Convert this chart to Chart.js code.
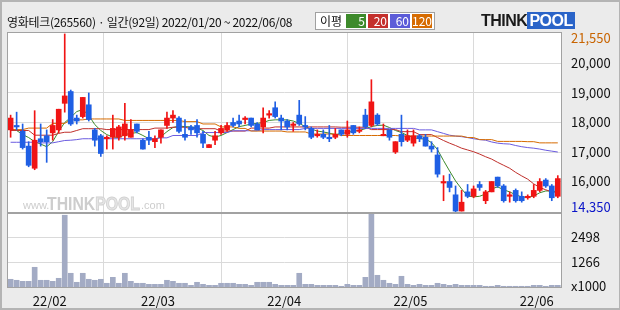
<!DOCTYPE html>
<html>
<head>
<meta charset="utf-8">
<script src="https://cdn.jsdelivr.net/npm/chart.js@4.4.1/dist/chart.umd.min.js"></script>
<style>
  body { margin: 0; background: #fff; }
  #wrap { position: relative; width: 620px; height: 310px; background: #ebebeb; overflow: hidden;
          font-family: 'Noto Sans CJK KR', 'Noto Sans', sans-serif; }
  #frame { position: absolute; left: 0; top: 0; width: 620px; height: 310px; box-sizing: border-box;
           border: 2px solid #b4b4b4; border-right-width: 1px; pointer-events: none; }
  canvas { position: absolute; left: 0; }
  #price { top: 0; }
  #vol { top: 213px; }
  #title { position: absolute; left: 7px; top: 13px; font-size: 12px; letter-spacing: -0.3px; color: #111; white-space: nowrap; }
  #maBox { position: absolute; left: 315px; top: 12px; width: 118px; height: 16px; background: #fff;
           border: 1px solid #a0a0a0; }
  #maBox span { position: absolute; top: 1px; height: 14px; line-height: 14px; font-size: 12px; }
  #maBox .lbl { left: 4px; color: #111; }
  #maBox .ma { color: #fff; text-align: right; padding-right: 1px; box-sizing: border-box; }
  #logo { position: absolute; left: 481px; top: 12px; height: 17px; font-family: 'Liberation Sans', Arial, sans-serif;
          font-weight: bold; font-size: 16px; line-height: 17px; letter-spacing: -0.5px; }
  #logo .think { color: #1a1a1a; }
  #logo .pool { color: #fff; background: #2a64c8; padding: 0 2px; }
</style>
</head>
<body>
<div id="wrap">
  <canvas id="price" width="620" height="213"></canvas>
  <canvas id="vol" width="620" height="97"></canvas>
  <div id="title">영화테크(265560) · 일간(92일) 2022/01/20 ~ 2022/06/08</div>
  <div id="maBox">
    <span class="lbl">이평</span>
    <span class="ma" style="left:30px;width:20px;background:#3d8a2b">5</span>
    <span class="ma" style="left:52px;width:20px;background:#c4302c">20</span>
    <span class="ma" style="left:74px;width:20px;background:#5c5cd8">60</span>
    <span class="ma" style="left:96px;width:20px;background:#d66b00">120</span>
  </div>
  <div id="logo"><span class="think">THINK</span><span class="pool">POOL</span></div>
  <div id="frame"></div>
</div>
<script>
// daily candles, 2022/01/20 ~ 2022/06/08 (92 trading days)
const monthLabels = ['22/02', '22/03', '22/04', '22/05', '22/06'];
const monthStartIdx = [7, 25, 46, 67, 88];

const openP = [17750,17900,17700,17200,16450,17450,17550,17650,17750,18650,
  19050,18150,18200,18600,17750,17550,17450,17500,17500,17550,
  17500,17950,17400,17500,17350,17500,17900,18150,18150,17600,
  17850,17900,17600,17150,17400,17650,17750,18000,18050,18100,
  18150,17950,17850,18250,18500,18150,18050,17900,18250,17900,
  17800,17550,17600,17500,17500,17750,17600,17900,17700,18250,
  17900,18250,17550,17750,17000,17600,17400,17300,17550,17500,
  17200,16900,15950,16000,15550,15000,15650,15500,15900,15350,
  15650,16150,15850,15500,15700,15500,15450,15500,15700,16050,
  15850,15500];
const highP = [18250,18350,17950,17350,18400,17950,17750,18100,18450,21000,
  19100,18250,18850,19000,17800,17600,17550,18250,17900,18650,
  18100,17950,17450,17700,17550,17750,18350,18400,18200,18100,
  17900,18100,17700,17250,17700,17900,18000,18150,18250,18200,
  18150,18000,18500,18400,18700,18250,18100,18000,18750,18200,
  17850,17750,17750,17900,17800,17750,18050,17900,17850,18450,
  19450,18300,17950,17750,17350,18250,17750,17750,17600,17600,
  17350,17150,16200,16250,15850,15700,15900,15850,16000,15700,
  16000,16150,15900,15650,15750,15650,15550,15900,16100,16100,
  15900,16200];
const lowP = [17500,17750,17100,16500,16400,17200,16650,17400,17650,18350,
  17900,17950,18150,18050,17200,16850,17100,17100,17400,17400,
  17500,17650,17100,17250,17150,17300,17800,18000,17650,17400,
  17600,17500,17150,17150,17250,17600,17700,17850,17850,17950,
  17850,17750,17650,18150,18150,17750,17750,17700,17900,17750,
  17450,17500,17450,17350,17450,17550,17500,17600,17650,17800,
  17850,17900,17550,17400,16950,17200,17350,17200,17350,17200,
  17000,16150,15350,15650,14950,15000,15450,15450,15700,15250,
  15650,15800,15300,15300,15300,15300,15400,15450,15650,15800,
  15350,15450];
const closeP = [18150,17850,17150,16550,17400,17350,17350,17900,18450,18900,
  17950,18050,18850,18100,17400,16950,17500,17800,17850,17950,
  17750,17700,17100,17400,17450,17750,18150,18250,17700,17500,
  17750,17650,17300,17250,17550,17800,17900,17900,17950,18150,
  17900,17750,18150,18300,18200,18050,17850,17950,17950,17850,
  17500,17600,17500,17450,17600,17600,17750,17650,17750,17850,
  18700,17950,17600,17500,17350,17350,17550,17550,17450,17200,
  17100,16250,16000,15800,15000,15300,15500,15750,15800,15650,
  16000,15850,15350,15550,15350,15350,15500,15700,16000,15850,
  15450,16100];
// volume, thousands of shares
const volume = [429,380,330,330,1020,380,380,330,478,3584,
  725,281,725,429,380,429,232,527,232,725,
  330,232,232,182,182,182,380,330,232,232,
  133,281,182,133,133,232,232,232,182,182,
  133,281,281,281,182,133,133,133,725,182,
  182,133,133,133,133,84,182,133,133,527,
  3633,626,380,232,182,577,182,133,182,133,
  133,232,182,133,182,133,133,133,133,84,
  84,133,84,84,84,84,84,133,133,84,
  133,133];
// moving averages
const ma5 = [17780,17730,17590,17490,17350,17270,17180,17350,17700,18000,
  18170,18370,18440,18240,17930,17730,17590,17510,17490,17590,
  17630,17660,17560,17450,17420,17520,17690,17830,17880,17860,
  17850,17810,17730,17560,17510,17560,17660,17760,17860,17900,
  17950,17970,18000,18070,18090,18090,18090,18050,17970,17860,
  17780,17710,17680,17640,17590,17630,17660,17710,17730,17790,
  17860,17900,17910,17830,17730,17660,17560,17490,17450,17440,
  17320,17080,16710,16360,16020,15750,15510,15480,15500,15580,
  15750,15820,15720,15650,15550,15480,15460,15510,15620,15680,
  15680,15650];
const ma20 = [17730,17730,17730,17730,17570,17570,17570,17570,17630,17670,
  17670,17730,17790,17790,17790,17790,17760,17760,17760,17760,
  17760,17760,17760,17760,17810,17810,17810,17840,17840,17840,
  17790,17790,17790,17790,17790,17710,17710,17710,17710,17710,
  17810,17810,17810,17810,17850,17850,17850,17850,17850,17850,
  17850,17850,17850,17850,17850,17840,17840,17840,17840,17840,
  17760,17760,17760,17760,17760,17690,17690,17690,17590,17590,
  17590,17490,17390,17300,17220,17130,17070,17010,16930,16840,
  16760,16650,16550,16450,16310,16190,16080,15920,15800,15720,
  15650,15630];
const ma60 = [17330,17330,17330,17330,17330,17310,17310,17310,17350,17390,
  17400,17420,17450,17450,17450,17450,17450,17450,17450,17450,
  17450,17450,17450,17450,17450,17480,17480,17560,17560,17560,
  17560,17560,17660,17660,17660,17660,17660,17720,17720,17720,
  17720,17720,17760,17760,17760,17760,17760,17760,17760,17800,
  17800,17800,17800,17800,17800,17800,17800,17800,17800,17800,
  17800,17800,17800,17800,17800,17800,17800,17800,17750,17750,
  17750,17690,17630,17570,17540,17520,17490,17450,17420,17400,
  17340,17300,17280,17270,17220,17180,17150,17130,17100,17060,
  17030,17000];
const ma120 = [17760,17760,17760,17810,17810,17810,17810,17970,17970,17970,
  18090,18090,18090,18120,18120,18120,18120,18120,18120,18070,
  18070,18070,18070,18070,18070,18070,18070,18070,18070,18030,
  18030,18030,17950,17950,17950,17850,17850,17850,17800,17800,
  17710,17710,17710,17710,17710,17710,17680,17680,17680,17680,
  17610,17610,17610,17610,17610,17560,17560,17560,17560,17560,
  17560,17560,17560,17560,17560,17540,17540,17540,17540,17540,
  17540,17540,17540,17540,17540,17540,17490,17490,17420,17420,
  17420,17360,17360,17360,17360,17360,17350,17350,17310,17310,
  17310,17310];

const priceGridTicks = [16000, 17000, 18000, 19000, 20000];
const priceHighLabel = '21,550';
const priceLowLabel = '14,350';
const volGridTicks = [1266, 2498];
const volUnitLabel = 'x1000';

// colours
const upColor = '#f01414';
const downColor = '#1f5fe4';
const volColor = '#a3abc4';
const gridColor = '#dadada';
const frameColor = '#a2a2a2';

Chart.defaults.font.family = "'Noto Sans CJK KR', 'Noto Sans', sans-serif";
Chart.defaults.font.size = 13;
Chart.defaults.color = '#111';

const idx = openP.map((_, i) => i);
const candleColors = idx.map(i => closeP[i] >= openP[i] ? upColor : downColor);
const monthEdges = monthStartIdx.map(i => i - 0.5);

// label spots for the high/low marks at the top and bottom of the price axis
const HIGH_LABEL_AT = 20860, LOW_LABEL_AT = 15140, UNIT_LABEL_AT = 98;

// scales must not push the plot area around
function noPad(s) {
  s.paddingTop = 0; s.paddingBottom = 0; s.paddingLeft = 0; s.paddingRight = 0;
}

// white plot area + grey frame
const panelPlugin = {
  id: 'panel',
  beforeDraw(chart) {
    const a = chart.chartArea, ctx = chart.ctx;
    ctx.save();
    ctx.fillStyle = '#fff';
    ctx.fillRect(a.left, a.top, a.right - a.left, a.bottom - a.top);
    ctx.restore();
  },
  afterDraw(chart) {
    const a = chart.chartArea, ctx = chart.ctx;
    ctx.save();
    ctx.strokeStyle = frameColor;
    ctx.lineWidth = 1;
    ctx.strokeRect(a.left + 0.5, a.top + 0.5, a.right - a.left - 1, a.bottom - a.top - 1);
    ctx.restore();
  }
};

// faint site watermark in the lower left of the price panel
const watermarkPlugin = {
  id: 'watermark',
  beforeDatasetsDraw(chart) {
    const ctx = chart.ctx;
    ctx.save();
    ctx.textBaseline = 'alphabetic';
    ctx.fillStyle = '#cdcdcd';
    ctx.font = "11px 'Liberation Sans', Arial, sans-serif";
    ctx.fillText('www.', 23, 209);
    ctx.font = "bold 19px 'Liberation Sans', Arial, sans-serif";
    const wThink = ctx.measureText('THINK').width;
    const wPool = ctx.measureText('POOL').width;
    const k = 93 / (wThink + wPool);   // squeeze the word into its slot
    ctx.save();
    ctx.translate(47, 210);
    ctx.scale(k, 1);
    ctx.fillText('THINK', 0, 0);
    ctx.fillStyle = '#e6e6e6';
    ctx.strokeStyle = '#d2d2d2';
    ctx.lineWidth = 1;
    ctx.fillText('POOL', wThink, 0);
    ctx.strokeText('POOL', wThink, 0);
    ctx.restore();
    ctx.fillStyle = '#cdcdcd';
    ctx.font = "11px 'Liberation Sans', Arial, sans-serif";
    ctx.fillText('.com', 141, 209);
    ctx.restore();
  }
};

function maLine(values, color) {
  return {
    type: 'line',
    data: values.map((v, i) => ({ x: i, y: v })),
    borderColor: color,
    borderWidth: 1,
    pointRadius: 0,
    tension: 0,
    order: 5
  };
}

const xScale = (showLabels) => ({
  type: 'linear',
  min: -0.6,
  max: 91.7,
  offset: false,
  afterBuildTicks: s => { s.ticks = monthEdges.map(v => ({ value: v })); },
  ticks: {
    display: showLabels,
    padding: 5,
    maxRotation: 0,
    autoSkip: false,
    callback: v => monthLabels[monthEdges.indexOf(v)] || ''
  },
  grid: { color: gridColor, drawTicks: false },
  border: { display: false },
  afterFit: s => { s.height = showLabels ? 22 : 0; noPad(s); }
});

new Chart(document.getElementById('price'), {
  type: 'bar',
  data: {
    datasets: [
      maLine(ma120, '#d66b00'),
      maLine(ma60, '#6b5ce0'),
      maLine(ma20, '#c0302c'),
      maLine(ma5, '#3d8a2b'),
      {
        data: idx.map(i => ({ x: i, y: [lowP[i], highP[i]] })),
        backgroundColor: candleColors,
        barThickness: 1,
        grouped: false,
        order: 2
      },
      {
        data: idx.map(i => ({ x: i, y: [openP[i], closeP[i]] })),
        backgroundColor: candleColors,
        barThickness: 5,
        minBarLength: 1,
        grouped: false,
        order: 1
      }
    ]
  },
  options: {
    responsive: false,
    animation: false,
    devicePixelRatio: 1,
    layout: { autoPadding: false, padding: { left: 7, top: 32, right: 0, bottom: 0 } },
    plugins: { legend: { display: false }, tooltip: { enabled: false } },
    scales: {
      x: xScale(false),
      y: {
        position: 'right',
        min: 14934,
        max: 21066,
        afterBuildTicks: s => {
          s.ticks = [LOW_LABEL_AT, ...priceGridTicks, HIGH_LABEL_AT].map(v => ({ value: v }));
        },
        ticks: {
          padding: 9,
          color: c => c.tick.value === HIGH_LABEL_AT ? '#c86400' : (c.tick.value === LOW_LABEL_AT ? '#0a14c8' : '#111'),
          callback: v => v === HIGH_LABEL_AT ? priceHighLabel : (v === LOW_LABEL_AT ? priceLowLabel : v.toLocaleString('en-US'))
        },
        grid: {
          drawTicks: false,
          color: c => priceGridTicks.includes(c.tick.value) ? gridColor : 'rgba(0,0,0,0)'
        },
        border: { display: false },
        afterFit: s => { s.width = 58; noPad(s); }
      }
    }
  },
  plugins: [panelPlugin, watermarkPlugin]
});

new Chart(document.getElementById('vol'), {
  type: 'bar',
  data: {
    datasets: [{
      data: idx.map(i => ({ x: i, y: volume[i] })),
      backgroundColor: volColor,
      barThickness: 5
    }]
  },
  options: {
    responsive: false,
    animation: false,
    devicePixelRatio: 1,
    layout: { autoPadding: false, padding: { left: 7, top: 0, right: 0, bottom: 0 } },
    plugins: { legend: { display: false }, tooltip: { enabled: false } },
    scales: {
      x: xScale(true),
      y: {
        position: 'right',
        min: 0,
        max: 3694,
        afterBuildTicks: s => {
          s.ticks = [UNIT_LABEL_AT, ...volGridTicks].map(v => ({ value: v }));
        },
        ticks: {
          padding: 9,
          callback: v => v === UNIT_LABEL_AT ? volUnitLabel : String(v)
        },
        grid: {
          drawTicks: false,
          color: c => volGridTicks.includes(c.tick.value) ? gridColor : 'rgba(0,0,0,0)'
        },
        border: { display: false },
        afterFit: s => { s.width = 58; noPad(s); }
      }
    }
  },
  plugins: [panelPlugin]
});
</script>
</body>
</html>
